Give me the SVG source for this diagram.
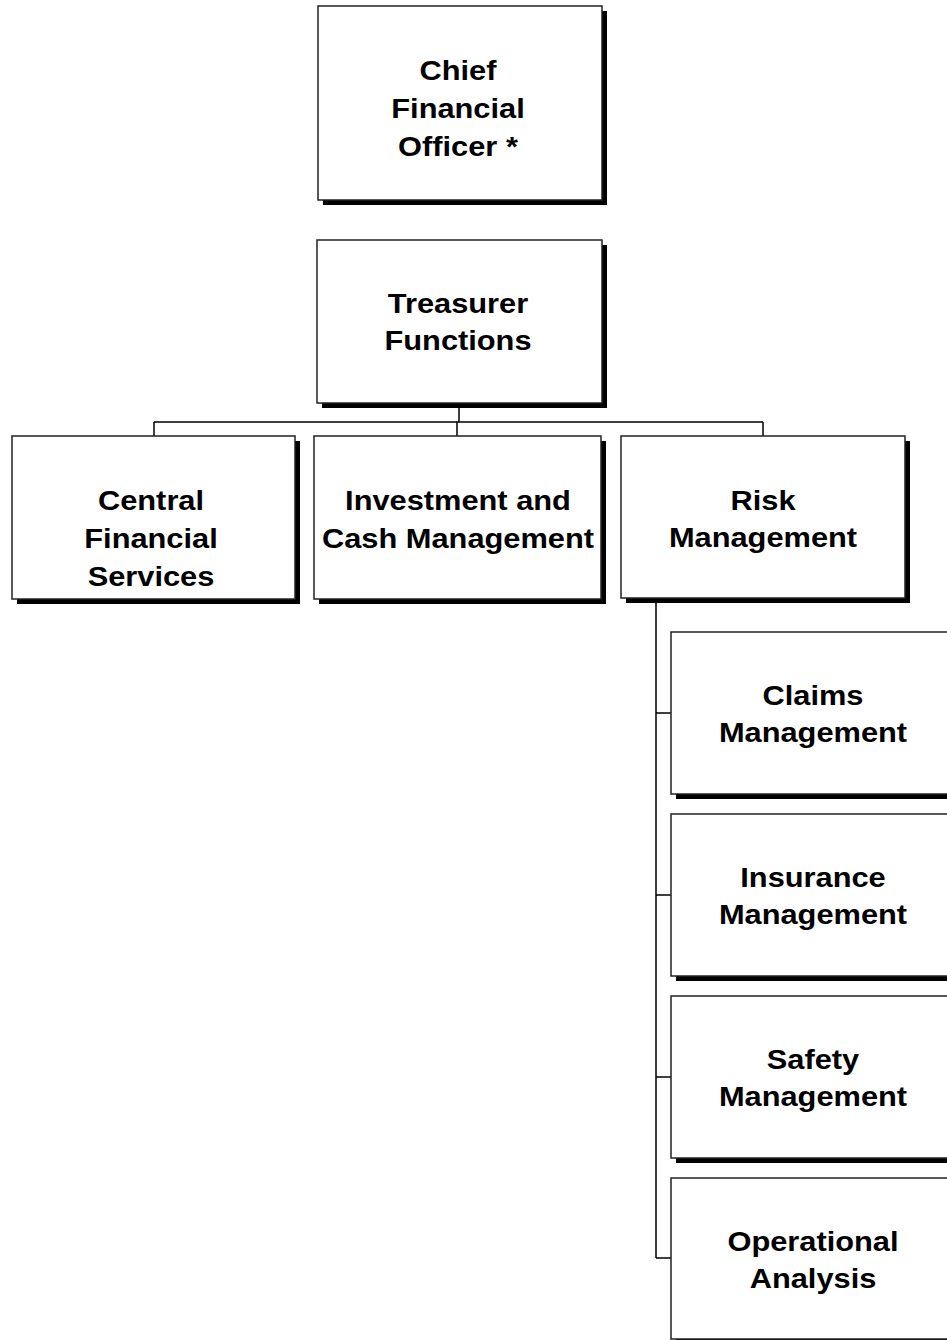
<svg xmlns="http://www.w3.org/2000/svg" width="947" height="1340" viewBox="0 0 947 1340">
<style>
.sh{fill:#000}
.bx{fill:#fff;stroke:#222;stroke-width:1.5}
.t{font-family:"Liberation Sans",Arial,sans-serif;font-weight:bold;font-size:28px;fill:#000;text-anchor:middle}
.c{fill:none;stroke:#000;stroke-width:1.5}
</style>
<rect width="947" height="1340" fill="#fff"/>
<g id="connectors">
<path class="c" d="M459 403V422M154 422H763M154 422V436M457 422V436M763 422V436"/>
<path class="c" d="M656 599V1258M656 713H671M656 895H671M656 1077H671M656 1258H671"/>
</g>
<g id="cfo">
<rect class="sh" x="323" y="11" width="284" height="194"/>
<rect class="bx" x="318" y="6" width="284" height="194"/>
<g transform="translate(458 0) scale(1.1 1)"><text class="t" x="0" y="80">Chief</text><text class="t" x="0" y="118">Financial</text><text class="t" x="0" y="156">Officer *</text></g>
</g>
<g id="treasurer">
<rect class="sh" x="322" y="245" width="285" height="163"/>
<rect class="bx" x="317" y="240" width="285" height="163"/>
<g transform="translate(458 0) scale(1.1 1)"><text class="t" x="0" y="313">Treasurer</text><text class="t" x="0" y="350">Functions</text></g>
</g>
<g id="central">
<rect class="sh" x="17" y="441" width="283" height="163"/>
<rect class="bx" x="12" y="436" width="283" height="163"/>
<g transform="translate(151 0) scale(1.1 1)"><text class="t" x="0" y="510">Central</text><text class="t" x="0" y="548">Financial</text><text class="t" x="0" y="586">Services</text></g>
</g>
<g id="investment">
<rect class="sh" x="319" y="441" width="287" height="163"/>
<rect class="bx" x="314" y="436" width="287" height="163"/>
<g transform="translate(458 0) scale(1.1 1)"><text class="t" x="0" y="510">Investment and</text><text class="t" x="0" y="548">Cash Management</text></g>
</g>
<g id="risk">
<rect class="sh" x="626" y="441" width="284" height="162"/>
<rect class="bx" x="621" y="436" width="284" height="162"/>
<g transform="translate(763 0) scale(1.1 1)"><text class="t" x="0" y="510">Risk</text><text class="t" x="0" y="547">Management</text></g>
</g>
<g id="claims">
<rect class="sh" x="676" y="637" width="284" height="162"/>
<rect class="bx" x="671" y="632" width="284" height="162"/>
<g transform="translate(813 0) scale(1.1 1)"><text class="t" x="0" y="705">Claims</text><text class="t" x="0" y="742">Management</text></g>
</g>
<g id="insurance">
<rect class="sh" x="676" y="819" width="284" height="162"/>
<rect class="bx" x="671" y="814" width="284" height="162"/>
<g transform="translate(813 0) scale(1.1 1)"><text class="t" x="0" y="887">Insurance</text><text class="t" x="0" y="924">Management</text></g>
</g>
<g id="safety">
<rect class="sh" x="676" y="1001" width="284" height="162"/>
<rect class="bx" x="671" y="996" width="284" height="162"/>
<g transform="translate(813 0) scale(1.1 1)"><text class="t" x="0" y="1069">Safety</text><text class="t" x="0" y="1106">Management</text></g>
</g>
<g id="operational">
<rect class="sh" x="676" y="1183" width="284" height="162"/>
<rect class="bx" x="671" y="1178" width="284" height="161"/>
<g transform="translate(813 0) scale(1.1 1)"><text class="t" x="0" y="1251">Operational</text><text class="t" x="0" y="1288">Analysis</text></g>
</g>
</svg>
